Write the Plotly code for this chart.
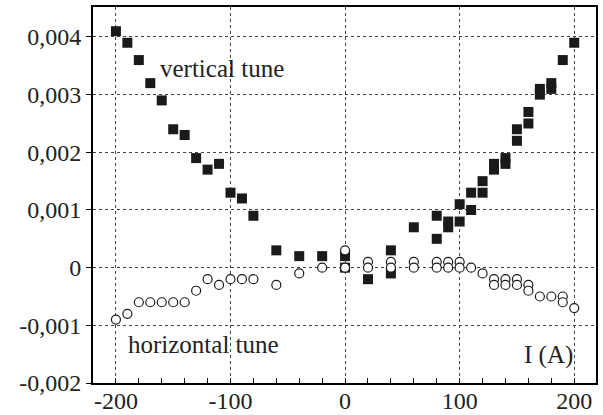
import plotly.graph_objects as go

# Vertical tune (filled squares)
vt_x = [-200, -190, -180, -170, -160, -150, -140, -130, -120, -110, -100, -90, -80, -60,
        -40, -20, 0, 0, 20, 40, 40, 60, 80, 80, 90, 90, 100, 100, 110, 110, 120, 120,
        130, 130, 140, 140, 150, 150, 160, 160, 170, 170, 180, 180, 190, 200]
vt_y = [0.0041, 0.0039, 0.0036, 0.0032, 0.0029, 0.0024, 0.0023, 0.0019, 0.0017, 0.0018,
        0.0013, 0.0012, 0.0009, 0.0003, 0.0002, 0.0002, 0.0002, 0.0, -0.0002, 0.0003,
        -0.0001, 0.0007, 0.0009, 0.0005, 0.0008, 0.0007, 0.0011, 0.0008, 0.0013, 0.0010,
        0.0015, 0.0013, 0.0018, 0.0017, 0.0019, 0.0018, 0.0024, 0.0022, 0.0027, 0.0025,
        0.0031, 0.0030, 0.0032, 0.0031, 0.0036, 0.0039]

# Horizontal tune (open circles)
ht_x = [-200, -190, -180, -170, -160, -150, -140, -130, -120, -110, -100, -90, -80, -60,
        -40, -20, 0, 0, 20, 20, 40, 40, 60, 60, 80, 80, 90, 90, 100, 100, 110, 120,
        130, 130, 140, 140, 150, 150, 160, 160, 170, 180, 190, 190, 200]
ht_y = [-0.0009, -0.0008, -0.0006, -0.0006, -0.0006, -0.0006, -0.0006, -0.0004, -0.0002,
        -0.0003, -0.0002, -0.0002, -0.0002, -0.0003, -0.0001, 0.0, 0.0003, 0.0, 0.0001,
        0.0, 0.0001, 0.0, 0.0001, 0.0, 0.0001, 0.0, 0.0001, 0.0, 0.0001, 0.0, 0.0,
        -0.0001, -0.0002, -0.0003, -0.0002, -0.0003, -0.0002, -0.0003, -0.0003, -0.0004,
        -0.0005, -0.0005, -0.0005, -0.0006, -0.0007]

y_ticks = [-0.002, -0.001, 0, 0.001, 0.002, 0.003, 0.004]
y_labels = ["-0,002", "-0,001", "0", "0,001", "0,002", "0,003", "0,004"]
x_ticks = [-200, -100, 0, 100, 200]
x_labels = ["-200", "-100", "0", "100", "200"]

FONT = "Liberation Serif"

fig = go.Figure()
fig.add_trace(go.Scatter(x=vt_x, y=vt_y, mode="markers", name="vertical tune",
                         marker=dict(symbol="square", size=10, color="#1a1a1a",
                                     line=dict(width=0))))
fig.add_trace(go.Scatter(x=ht_x, y=ht_y, mode="markers", name="horizontal tune",
                         marker=dict(symbol="circle", size=9, color="white",
                                     line=dict(width=1.2, color="#1a1a1a"))))

fig.add_annotation(x=-163, y=0.00346, text="vertical tune", showarrow=False,
                   xanchor="left", yanchor="middle", font=dict(family=FONT, size=25, color="#222"))
fig.add_annotation(x=-191, y=-0.00133, text="horizontal tune", showarrow=False,
                   xanchor="left", yanchor="middle", font=dict(family=FONT, size=25, color="#222"))
fig.add_annotation(x=154, y=-0.00151, text="I (A)", showarrow=False,
                   xanchor="left", yanchor="middle", font=dict(family=FONT, size=25, color="#222"))

fig.update_layout(
    width=603, height=415,
    margin=dict(l=93, r=7, t=7, b=32),
    paper_bgcolor="white", plot_bgcolor="white",
    showlegend=False,
    font=dict(family=FONT, size=24, color="#222"),
    xaxis=dict(range=[-220, 219], tickvals=x_ticks, ticktext=x_labels,
               automargin=False, ticklabelstandoff=-5,
               ticks="inside", ticklen=5, tickcolor="black",
               tickfont=dict(family=FONT, size=24, color="#222"),
               minor=dict(ticks="inside", dtick=20, tick0=0, ticklen=5, tickcolor="black", showgrid=False),
               showgrid=True, gridcolor="#444", griddash="dot", gridwidth=1,
               zeroline=False, showline=True, linecolor="black", linewidth=2, mirror=True),
    yaxis=dict(range=[-0.002, 0.00452], tickvals=y_ticks, ticktext=y_labels,
               automargin=False,
               ticks="outside", ticklen=5, tickcolor="black",
               tickfont=dict(family=FONT, size=24, color="#222"),
               showgrid=True, gridcolor="#444", griddash="dot", gridwidth=1,
               zeroline=False, showline=True, linecolor="black", linewidth=2, mirror=True),
)

fig.write_html("out.html", config={"displayModeBar": False},
               post_script="document.body.style.margin='0';document.body.style.padding='0';")
